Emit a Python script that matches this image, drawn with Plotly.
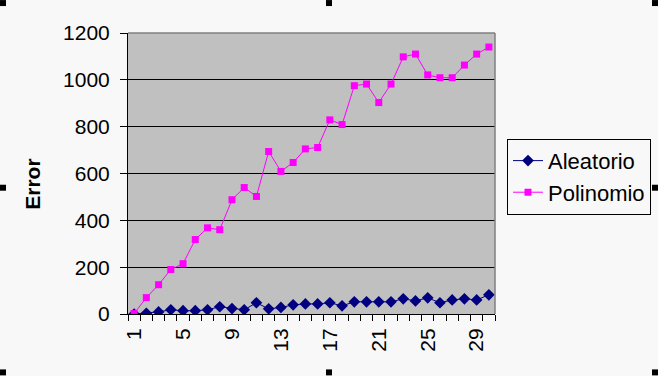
import plotly.graph_objects as go

categories = list(range(1, 31))
aleatorio = [0, 3, 9, 18, 14, 14, 18, 31, 23, 18, 48, 22, 28, 39, 43,
             43, 48, 35, 52, 52, 52, 52, 65, 56, 69, 48, 60, 65, 60, 82]
polinomio = [2, 70, 125, 190, 215, 318, 368, 360, 488, 540, 502, 694, 609, 647, 705,
             711, 829, 809, 975, 982, 903, 982, 1098, 1110, 1021, 1009, 1009, 1063, 1110, 1140]
x_tick_labels = ["1", "5", "9", "13", "17", "21", "25", "29"]
y_ticks = [0, 200, 400, 600, 800, 1000, 1200]

W, H = 658, 376
L, R, T, B = 128, 495, 33, 314.5

def px(x):
    return (x - L) / (R - L)

def py(y):
    return (B - y) / (B - T)

fig = go.Figure()
fig.add_trace(go.Scatter(
    x=categories, y=aleatorio, name="Aleatorio", mode="lines+markers",
    line=dict(color="#000080", width=1),
    marker=dict(symbol="diamond", size=9, color="#000080"),
))
fig.add_trace(go.Scatter(
    x=categories, y=polinomio, name="Polinomio", mode="lines+markers",
    line=dict(color="#FF00FF", width=1),
    marker=dict(symbol="square", size=7, color="#FF00FF"),
))

FAM = "Arial, Liberation Sans, sans-serif"
font = dict(family=FAM, size=21, color="black")

shapes = [
    dict(type="line", xref="paper", yref="paper", x0=0, x1=1, y0=1, y1=1,
         line=dict(color="#808080", width=1.5), layer="above"),
    dict(type="line", xref="paper", yref="paper", x0=1, x1=1, y0=0, y1=1,
         line=dict(color="#808080", width=1.5), layer="above"),
]
handles = [(0, 0), (326, 0), (652, 0), (0, 185), (652, 185), (0, 370), (326, 370), (652, 370)]
for hx, hy in handles:
    shapes.append(dict(type="rect", xref="paper", yref="paper",
                       x0=px(hx), x1=px(hx + 6), y0=py(hy + 6), y1=py(hy),
                       fillcolor="black", line=dict(width=0), layer="above"))

fig.update_layout(
    width=W, height=H,
    margin=dict(l=L, r=W - R, t=T, b=H - B, pad=0, autoexpand=False),
    paper_bgcolor="#F8F8F8",
    plot_bgcolor="#C0C0C0",
    font=font,
    showlegend=True,
    legend=dict(
        x=px(507), y=py(139), xanchor="left", yanchor="top",
        borderwidth=1, bordercolor="black", bgcolor="#F8F8F8",
        font=dict(family=FAM, size=22, color="black"), itemwidth=30, tracegroupgap=0,
    ),
    xaxis=dict(
        range=[0.5, 30.5], tickmode="array",
        tickvals=[int(t) for t in x_tick_labels], ticktext=x_tick_labels,
        tickangle=-90, ticks="", showgrid=False, zeroline=False,
        showline=True, linecolor="black", linewidth=1, automargin=False,
        tickfont=font, ticklabelstandoff=5,
        minor=dict(ticks="outside", tick0=0.5, dtick=1, ticklen=6,
                   tickcolor="black", tickwidth=1, showgrid=False),
    ),
    yaxis=dict(
        range=[0, 1200], tickmode="array", tickvals=y_ticks,
        ticks="outside", ticklen=7, tickcolor="black", tickwidth=1,
        showgrid=True, gridcolor="black", gridwidth=1, zeroline=False,
        showline=True, linecolor="black", linewidth=1, automargin=False,
        tickfont=font, ticklabelstandoff=6,
    ),
    shapes=shapes,
    annotations=[
        dict(
            text="<b>Error</b>", xref="paper", yref="paper",
            x=px(33), y=py(185), xanchor="center", yanchor="middle",
            textangle=-90, showarrow=False,
            font=dict(family=FAM, size=21, color="black"),
        ),
    ],
)

fig.write_html(
    "out.html",
    config={"displayModeBar": False},
    post_script="document.body.style.margin='0';document.body.style.background='#F8F8F8';document.body.style.overflow='hidden';",
)
